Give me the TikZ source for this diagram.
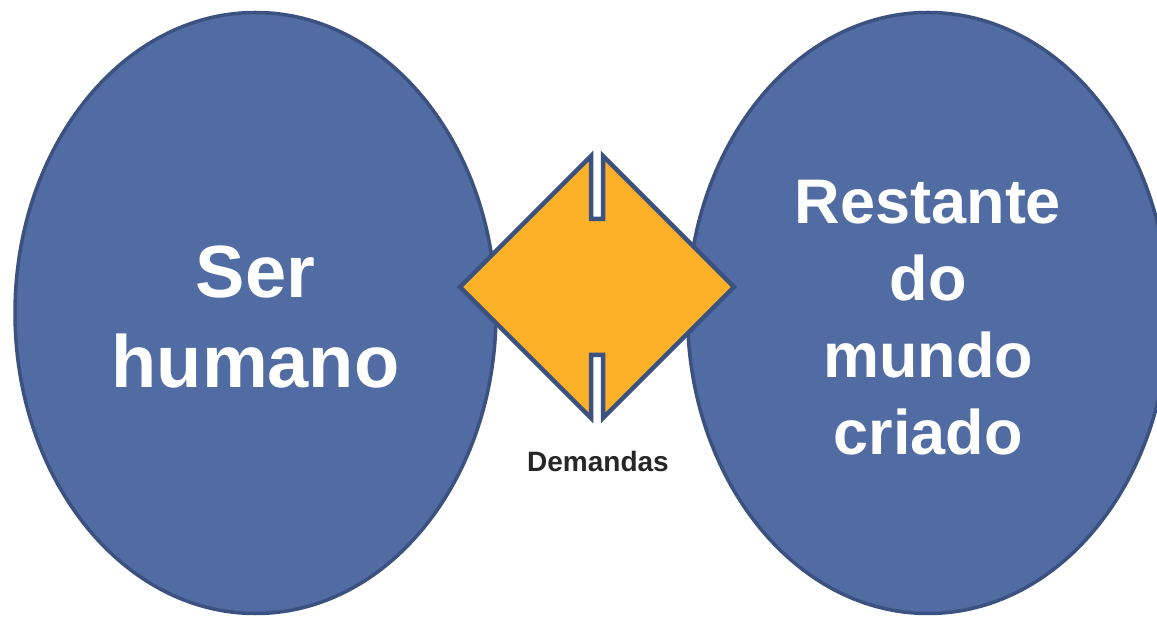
\documentclass[tikz,border=0pt]{standalone}
\usepackage{fontspec}
\setmainfont{Liberation Sans}
\usetikzlibrary{shapes.geometric}
\definecolor{bubblefill}{RGB}{81,108,163}
\definecolor{bubbleline}{RGB}{59,81,128}
\definecolor{arrowfill}{RGB}{252,177,40}
\definecolor{labelgray}{RGB}{38,38,38}

\begin{document}
\begin{tikzpicture}[x=1pt,y=1pt,
  bubble/.style={ellipse,draw=bubbleline,line width=3.5pt,fill=bubblefill,
    minimum width=481pt,minimum height=601pt,inner sep=0pt},
  bubbletext/.style={text=white,align=center,inner sep=0pt,yshift=-4.5pt},
  demand/.style={draw=bubbleline,line width=4.5pt,fill=arrowfill,line join=miter}]
%\draw[help lines] (0,0) grid[step=50] (1157,616);
\useasboundingbox (0,0) rectangle (1157,616);

\node[bubble] (ser) at (255.5,303) {};
\node[bubble] (mundo) at (928,303) {};
\node[bubbletext,font=\bfseries\fontsize{74}{90}\selectfont] (sertxt) at (ser) {Ser\\humano};
\node[bubbletext,font=\bfseries\fontsize{63}{77}\selectfont] (mundotxt) at (mundo) {Restante\\do\\mundo\\criado};

\draw[demand] (460,329) -- (591,460) -- (591,397) -- (603,397) -- (603,460)
  -- (734,329) -- (603,198) -- (603,261) -- (591,261) -- (591,198) -- cycle;

\node[anchor=base,text=labelgray,font=\bfseries\fontsize{28}{33}\selectfont] (dem) at (598,144) {Demandas};
\end{tikzpicture}
\end{document}
